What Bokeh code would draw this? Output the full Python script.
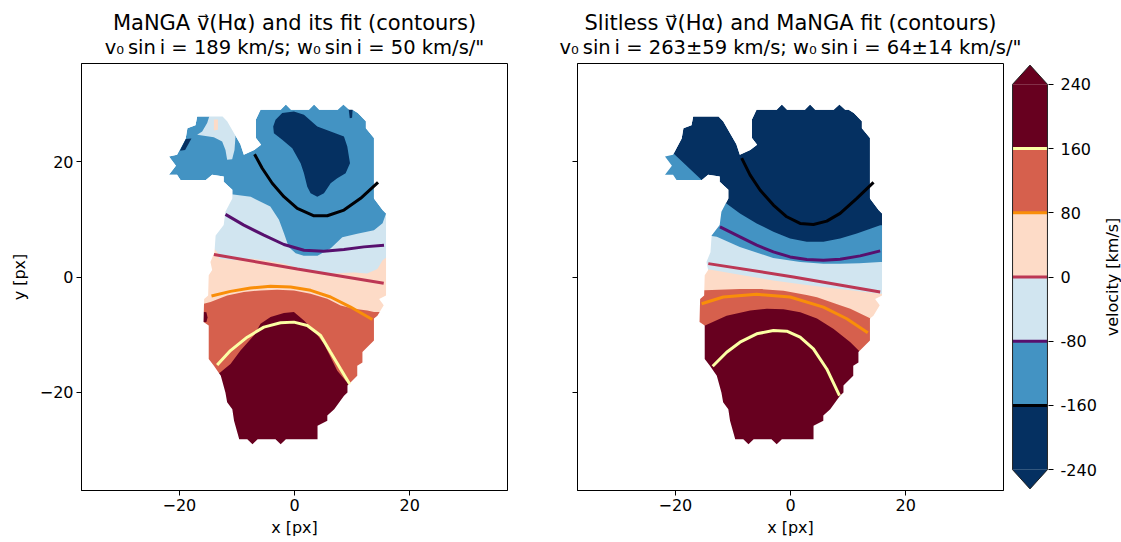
from bokeh.plotting import figure
from bokeh.layouts import row, column
from bokeh.models import Range1d, FixedTicker
from bokeh.core.properties import value
from bokeh.embed import file_html
from bokeh.resources import INLINE

FONT = "DejaVu Sans"

# ---------------- data ----------------
levels = [-240, -160, -80, 0, 80, 160, 240]
band_colors = ["#053061", "#4393c3", "#d1e5f0", "#fddbc7", "#d6604d", "#67001f"]
line_levels = [-160, -80, 0, 80, 160]
line_colors = ["#000004", "#57106e", "#bc3754", "#f98e09", "#fcffa4"]
tick_values = [-20, 0, 20]
tick_labels = ["\u221220", "0", "20"]
cbar_labels = ["-240", "-160", "-80", "0", "80", "160", "240"]

# galaxy mask outline (px)
mask_x = [-6.7, -5.9, -2.4, -1.5, -0.6, 2.5, 3.4, 4.3, 7.5, 8.5, 9.5, 10.1, 11.0, 12.4, 12.4, 13.8,
          13.8, 15.3, 15.9, 15.9, 14.7, 15.5, 14.4, 13.8, 13.8, 11.8, 11.8, 10.9, 10.9, 9.2, 9.2,
          8.6, 6.9, 5.7, 5.7, 4.0, 4.0, -1.5, -2.4, -3.3, -6.4, -7.3, -8.2, -9.6, -10.5, -10.8,
          -11.7, -12.0, -12.8, -14.0, -14.9, -14.9, -15.8, -15.7, -15.0, -14.9, -14.3, -14.6,
          -13.9, -13.7, -12.3, -12.0, -10.8, -10.8, -12.3, -12.3, -14.3, -15.4, -19.8, -20.4,
          -21.8, -20.6, -21.8, -20.4, -19.8, -18.9, -18.6, -17.2, -16.9, -12.5, -11.7, -9.4,
          -8.8, -7.0, -5.8, -6.7]
mask_y = [27.3, 29.0, 29.0, 29.9, 29.0, 29.0, 29.9, 29.0, 29.0, 29.9, 29.0, 29.0, 28.4, 27.0, 25.8, 24.1,
          13.6, 11.6, 11.0, -3.2, -3.8, -4.9, -6.7, -7.2, -11.0, -13.0, -14.8, -15.4, -17.1, -18.8, -20.0,
          -20.6, -22.9, -24.0, -24.9, -25.8, -28.1, -28.1, -29.0, -28.1, -28.1, -29.0, -28.1, -28.1, -24.9, -22.9,
          -21.7, -20.0, -17.1, -15.4, -14.2, -8.4, -7.8, -3.8, -3.2, 0.3, 1.2, 2.6,
          4.3, 7.2, 9.0, 11.3, 13.6, 15.1, 16.5, 17.4, 17.7, 16.8, 16.8, 17.7,
          17.7, 19.3, 20.9, 21.2, 22.3, 24.0, 25.8, 26.3, 27.8, 27.8, 27.0, 23.0,
          21.2, 22.0, 22.9, 24.1]

# ---- MaNGA velocity field (left panel) ----
manga_core_x = [-3.29, -2.13, -0.10, 1.64, 3.96, 6.28, 8.59, 9.17, 9.64, 8.88, 7.43, 6.28, 5.12, 3.96,
                2.80, 2.22, 1.64, 1.06, -0.39, -2.13, -3.58, -3.70]
manga_core_y = [27.25, 28.41, 28.70, 28.12, 26.09, 25.22, 24.35, 22.61, 19.72, 17.98, 17.11, 16.24, 14.50,
                13.92, 14.50, 15.66, 17.98, 19.72, 22.32, 23.77, 24.93, 26.09]
manga_core2_x = [9.4, 10.1, 10.0, 9.6]
manga_core2_y = [29.2, 29.2, 27.6, 27.5]
manga_core3_x = [-19.9, -18.9, -17.9, -19.0]
manga_core3_y = [21.9, 23.9, 24.0, 22.0]
manga_isle_x = [-16.91, -16.04, -15.17, -14.59, -12.57, -11.41, -10.54, -10.25, -10.42, -10.83, -11.70,
                -11.99, -12.57, -14.01, -15.75]
manga_isle_y = [24.64, 25.22, 26.67, 28.5, 28.5, 27.14, 26.09, 24.35, 22.03, 20.41, 20.30,
                22.03, 23.48, 24.24, 24.47]
manga_dot_x = [-14.0, -13.3, -13.3, -14.0]
manga_dot_y = [27.3, 27.3, 25.5, 25.4]
manga_m80_x = [-12.3, -7.6, -4.2, -2.7, -1.8, -1.0, 0.2, 1.6, 4.0, 6.3, 8.3, 10.9, 13.8, 15.3, 15.9]
manga_m80_y = [14.5, 13.9, 12.2, 9.9, 7.5, 5.2, 4.1, 3.7, 3.7, 5.0, 6.9, 7.5, 8.1, 9.3, 11.0]
manga_0_x = [-14.3, -13.4, -13.1, -10.5, -7.6, -5.3, -1.8, 1.1, 4.0, 6.3, 10.3, 12.6, 14.4, 15.3, 16.1]
manga_0_y = [5.3, 4.3, 3.2, 2.9, 3.2, 2.9, 2.3, 1.4, 0.9, 0.6, 0.8, 0.6, 1.4, 2.9, 3.5]
manga_80_x = [-15.75, -14.59, -11.70, -8.80, -5.90, -3.0, -0.10, 2.80, 5.70, 8.01, 10.33, 12.65, 13.81]
manga_80_y = [-4.63, -4.35, -3.19, -2.61, -2.32, -2.2, -2.32, -2.90, -3.76, -4.92, -5.50, -5.79, -6.08]
manga_160_x = [-13.4, -12.86, -11.12, -9.38, -7.06, -5.90, -4.16, -1.84, -0.10, 1.64, 3.38, 5.12, 6.28,
               7.43, 8.88, 9.75]
manga_160_y = [-16.8, -16.52, -15.07, -12.75, -10.14, -8.11, -6.95, -6.26, -6.08, -7.53, -9.27, -11.59,
               -13.91, -16.23, -17.97, -18.55]
manga_red_x = [-16.5, -15.3, -15.1, -15.3, -16.5]
manga_red_y = [-6.0, -6.1, -7.0, -7.8, -7.9]

# MaNGA fit contours (left panel)
mfit_m160_x = [-6.94, -5.61, -3.87, -1.84, 0.48, 3.38, 5.69, 8.59, 11.49, 14.51]
mfit_m160_y = [21.28, 18.85, 16.24, 13.92, 11.89, 10.61, 10.61, 11.60, 13.63, 16.41]
mfit_m80_x = [-11.99, -8.80, -5.32, -1.84, 1.64, 5.11, 8.59, 12.07, 15.55]
mfit_m80_y = [10.85, 8.99, 7.25, 5.63, 4.64, 4.47, 4.76, 5.22, 5.51]
mfit_0_x = [-14.0, 0.5, 15.5]
mfit_0_y = [3.9, 1.4, -1.1]
mfit_80_x = [-14.42, -11.12, -7.64, -4.16, -0.68, 2.80, 6.27, 9.75, 13.52]
mfit_80_y = [-3.30, -2.49, -1.91, -1.62, -1.73, -2.31, -3.47, -5.21, -7.36]
mfit_160_x = [-13.44, -11.12, -8.22, -5.32, -2.42, -0.10, 2.22, 4.54, 6.27, 8.01, 9.58]
mfit_160_y = [-15.24, -12.75, -10.43, -8.69, -7.94, -7.82, -8.40, -10.14, -13.04, -15.94, -18.54]

# ---- Slitless velocity field (right panel) ----
slit_m160_x = [-20.36, -15.43, -11.96, -8.77, -5.87, -2.97, -0.07, 2.83, 5.72, 8.62, 11.52, 15.58]
slit_m160_y = [21.45, 16.82, 13.34, 11.02, 9.28, 7.83, 6.67, 6.09, 6.09, 6.67, 7.54, 8.99]
slit_m80_x = [-14.6, -12.8, -8.8, -3.0, 1.7, 5.7, 8.6, 12.0, 15.6]
slit_m80_y = [7.25, 6.96, 5.22, 3.3, 2.6, 2.3, 2.3, 2.4, 2.6]
slit_0_x = [-14.6, -8.8, -3.0, 2.8, 8.6, 15.6]
slit_0_y = [1.4, 0.4, -0.6, -1.4, -2.1, -2.9]
slit_80_x = [-14.9, -8.8, -5.0, -1.2, 2.8, 4.6, 8.6, 10.4, 14.1]
slit_80_y = [-2.3, -2.1, -2.1, -2.4, -3.1, -3.5, -4.9, -5.5, -7.3]
slit_160_x = [-14.85, -11.1, -7.0, -4.1, -1.2, 1.7, 4.6, 7.5, 10.4, 12.1]
slit_160_y = [-8.4, -6.7, -5.8, -5.5, -5.6, -6.1, -7.2, -9.0, -11.3, -13.0]

# MaNGA fit contours (right panel)
sfit_m160_x = [-8.48, -7.03, -5.29, -2.97, -0.65, 1.67, 3.98, 6.30, 8.62, 11.52, 14.42]
sfit_m160_y = [20.59, 17.69, 15.08, 12.47, 10.44, 9.28, 9.11, 9.69, 11.02, 13.63, 16.41]
sfit_m80_x = [-12.25, -8.77, -5.87, -2.97, -0.07, 2.83, 5.72, 8.62, 12.10, 15.58]
sfit_m80_y = [8.70, 6.96, 5.51, 4.35, 3.48, 3.02, 2.90, 3.07, 3.66, 4.53]
sfit_0_x = [-14.28, 0.51, 15.58]
sfit_0_y = [2.32, 0.01, -2.60]
sfit_80_x = [-15.44, -11.67, -5.87, -0.07, 5.72, 9.78, 13.43]
sfit_80_y = [-4.63, -3.47, -3.01, -3.47, -5.21, -7.24, -9.68]
sfit_160_x = [-13.52, -11.09, -8.77, -5.87, -2.97, -0.65, 1.67, 3.98, 6.30, 8.51]
sfit_160_y = [-15.47, -13.04, -11.30, -9.85, -9.27, -9.39, -10.43, -12.46, -15.94, -20.57]

titles_left = ["MaNGA v\u20d7(H\u03b1) and its fit (contours)",
               "v\u2080\u2009sin\u2009i = 189 km/s; w\u2080\u2009sin\u2009i = 50 km/s/\""]
titles_right = ["Slitless v\u20d7(H\u03b1) and MaNGA fit (contours)",
                "v\u2080\u2009sin\u2009i = 263\u00b159 km/s; w\u2080\u2009sin\u2009i = 64\u00b114 km/s/\""]
cbar_title = "velocity [km/s]"

# ---------------- layout constants ----------------
AX = 37.0
FRAME_W, FRAME_H = 426, 427
HEADER_H, BOTTOM = 63, 51
L1_LEFT, L1_RIGHT = 81, 10
L2_LEFT, L2_RIGHT = 60, 8
CB_W, CB_RIGHT = 37, 51
LAB_LEFT = 20
EXT = 30.0      # band polygons reach beyond the mask, then get masked
COVER = 34.0    # white cover outside the galaxy mask
FS = "16px"


def band_polygon(bx, by):
    xs = [-EXT] + list(bx) + [EXT, EXT, -EXT]
    ys = [by[0]] + list(by) + [by[-1], -EXT - 3, -EXT - 3]
    return xs, ys


def style_axes(p, show_ylabels):
    p.grid.visible = False
    p.outline_line_color = "black"
    p.outline_line_width = 1
    p.outline_line_alpha = 1
    for ax in (p.xaxis[0], p.yaxis[0]):
        ax.ticker = FixedTicker(ticks=tick_values)
        ax.major_label_overrides = {v: l for v, l in zip(tick_values, tick_labels)}
        ax.minor_tick_line_color = None
        ax.major_tick_in = 0
        ax.major_tick_out = 5
        ax.axis_line_color = "black"
        ax.major_tick_line_color = "black"
        ax.major_label_text_font = FONT
        ax.major_label_text_font_size = FS
        ax.major_label_text_color = "black"
        ax.axis_label_text_font = FONT
        ax.axis_label_text_font_size = FS
        ax.axis_label_text_font_style = "normal"
        ax.axis_label_text_color = "black"
    p.xaxis.major_label_standoff = 3
    p.xaxis.axis_label_standoff = 4
    p.xaxis.axis_label = "x [px]"
    p.yaxis.major_label_standoff = 3
    if show_ylabels:
        p.yaxis.axis_label = "y [px]"
        p.yaxis.axis_label_standoff = 8
    else:
        p.yaxis.major_label_overrides = {v: "" for v in tick_values}


def make_panel(base_color, fills, fit_lines, left, right, show_ylabels):
    p = figure(frame_width=FRAME_W, frame_height=FRAME_H,
               x_range=Range1d(-AX, AX), y_range=Range1d(-AX, AX),
               min_border_left=left, min_border_right=right,
               min_border_top=0, min_border_bottom=BOTTOM,
               output_backend="svg", toolbar_location=None,
               background_fill_color="white", border_fill_color="white")
    p.patch(mask_x, mask_y, fill_color=base_color, line_color=None)
    for kind, color, fx, fy in fills:
        if kind == "band":
            xs, ys = band_polygon(fx, fy)
        else:
            xs, ys = fx, fy
        p.patch(xs, ys, fill_color=color, line_color=None)
    p.multi_polygons(xs=[[[[-COVER, COVER, COVER, -COVER], mask_x]]],
                     ys=[[[[-COVER, -COVER, COVER, COVER], mask_y]]],
                     fill_color="white", line_color=None)
    for (lx, ly), c in zip(fit_lines, line_colors):
        p.line(lx, ly, line_color=c, line_width=3)
    style_axes(p, show_ylabels)
    return p


left_fills = [
    ("patch", band_colors[0], manga_core_x, manga_core_y),
    ("patch", band_colors[0], manga_core2_x, manga_core2_y),
    ("patch", band_colors[0], manga_core3_x, manga_core3_y),
    ("patch", band_colors[2], manga_isle_x, manga_isle_y),
    ("patch", band_colors[3], manga_dot_x, manga_dot_y),
    ("band", band_colors[2], manga_m80_x, manga_m80_y),
    ("band", band_colors[3], manga_0_x, manga_0_y),
    ("band", band_colors[4], manga_80_x, manga_80_y),
    ("band", band_colors[5], manga_160_x, manga_160_y),
    ("patch", band_colors[5], manga_red_x, manga_red_y),
]
left_lines = [(mfit_m160_x, mfit_m160_y), (mfit_m80_x, mfit_m80_y), (mfit_0_x, mfit_0_y),
              (mfit_80_x, mfit_80_y), (mfit_160_x, mfit_160_y)]

right_fills = [
    ("band", band_colors[1], slit_m160_x, slit_m160_y),
    ("band", band_colors[2], slit_m80_x, slit_m80_y),
    ("band", band_colors[3], slit_0_x, slit_0_y),
    ("band", band_colors[4], slit_80_x, slit_80_y),
    ("band", band_colors[5], slit_160_x, slit_160_y),
]
right_lines = [(sfit_m160_x, sfit_m160_y), (sfit_m80_x, sfit_m80_y), (sfit_0_x, sfit_0_y),
               (sfit_80_x, sfit_80_y), (sfit_160_x, sfit_160_y)]

p1 = make_panel(band_colors[1], left_fills, left_lines, L1_LEFT, L1_RIGHT, True)
p2 = make_panel(band_colors[0], right_fills, right_lines, L2_LEFT, L2_RIGHT, False)

# ---------------- colorbar ----------------
ext = 0.05 * (levels[-1] - levels[0])
pad_y = 2.0
cb = figure(frame_width=CB_W, frame_height=FRAME_H,
            x_range=Range1d(-0.03, 1.03),
            y_range=Range1d(levels[0] - ext - pad_y, levels[-1] + ext + pad_y),
            x_axis_location=None, y_axis_location="right",
            min_border_left=0, min_border_right=CB_RIGHT,
            min_border_top=0, min_border_bottom=BOTTOM,
            output_backend="svg", toolbar_location=None)
cb.grid.visible = False
cb.outline_line_color = None
cb.quad(left=0, right=1, bottom=levels[:-1], top=levels[1:], fill_color=band_colors, line_color=None)
cb.patch([0, 0.5, 1], [levels[-1], levels[-1] + ext, levels[-1]], fill_color=band_colors[-1], line_color=None)
cb.patch([0, 0.5, 1], [levels[0], levels[0] - ext, levels[0]], fill_color=band_colors[0], line_color=None)
cb.segment(x0=[0] * len(line_levels), x1=[1] * len(line_levels), y0=line_levels, y1=line_levels,
           line_color=line_colors, line_width=3)
cb.line([0, 0, 0.5, 1, 1, 0.5, 0],
        [levels[0], levels[-1], levels[-1] + ext, levels[-1], levels[0], levels[0] - ext, levels[0]],
        line_color="#222222", line_width=1)
ya = cb.yaxis[0]
ya.ticker = FixedTicker(ticks=levels)
ya.major_label_overrides = {v: l for v, l in zip(levels, cbar_labels)}
ya.axis_line_color = None
ya.minor_tick_line_color = None
ya.major_tick_in = 0
ya.major_tick_out = 5
ya.major_tick_line_color = "black"
ya.major_label_standoff = 7
ya.major_label_text_font = FONT
ya.major_label_text_font_size = FS
ya.major_label_text_color = "black"

# colorbar label: a thin strip whose left axis carries only the label (reads bottom-to-top)
lab = figure(frame_width=1, frame_height=FRAME_H,
             x_range=Range1d(0, 1), y_range=Range1d(levels[0] - ext - pad_y, levels[-1] + ext + pad_y),
             x_axis_location=None, y_axis_location="left",
             min_border_left=LAB_LEFT, min_border_right=0,
             min_border_top=0, min_border_bottom=BOTTOM,
             output_backend="svg", toolbar_location=None)
lab.grid.visible = False
lab.outline_line_color = None
la = lab.yaxis[0]
la.ticker = FixedTicker(ticks=[])
la.axis_line_color = None
la.major_tick_line_color = None
la.minor_tick_line_color = None
la.major_label_text_font_size = "0px"
la.axis_label = cbar_title
la.axis_label_standoff = 1
la.axis_label_text_font = FONT
la.axis_label_text_font_size = FS
la.axis_label_text_font_style = "normal"
la.axis_label_text_color = "black"

# ---------------- header with the two panel titles ----------------
w1 = L1_LEFT + FRAME_W + L1_RIGHT
w2 = L2_LEFT + FRAME_W + L2_RIGHT
total_w = w1 + w2 + CB_W + CB_RIGHT + LAB_LEFT + 1
centers = [L1_LEFT + FRAME_W / 2, w1 + L2_LEFT + FRAME_W / 2]
header = figure(frame_width=total_w, frame_height=HEADER_H,
                x_range=Range1d(0, total_w), y_range=Range1d(0, HEADER_H),
                x_axis_location=None, y_axis_location=None,
                min_border_left=0, min_border_right=0, min_border_top=0, min_border_bottom=0,
                output_backend="svg", toolbar_location=None)
header.grid.visible = False
header.outline_line_color = None
header.text(x=centers, y=[HEADER_H - 22] * 2, text=[titles_left[0], titles_right[0]],
            text_font=value(FONT), text_font_size=value("21px"), text_color="black",
            text_align="center", text_baseline="middle")
header.text(x=centers, y=[HEADER_H - 46.5] * 2, text=[titles_left[1], titles_right[1]],
            text_font=value(FONT), text_font_size=value("19.5px"), text_color="black",
            text_align="center", text_baseline="middle")

layout = column(header, row(p1, p2, cb, lab))
open("out.html", "w").write(file_html(layout, INLINE))
